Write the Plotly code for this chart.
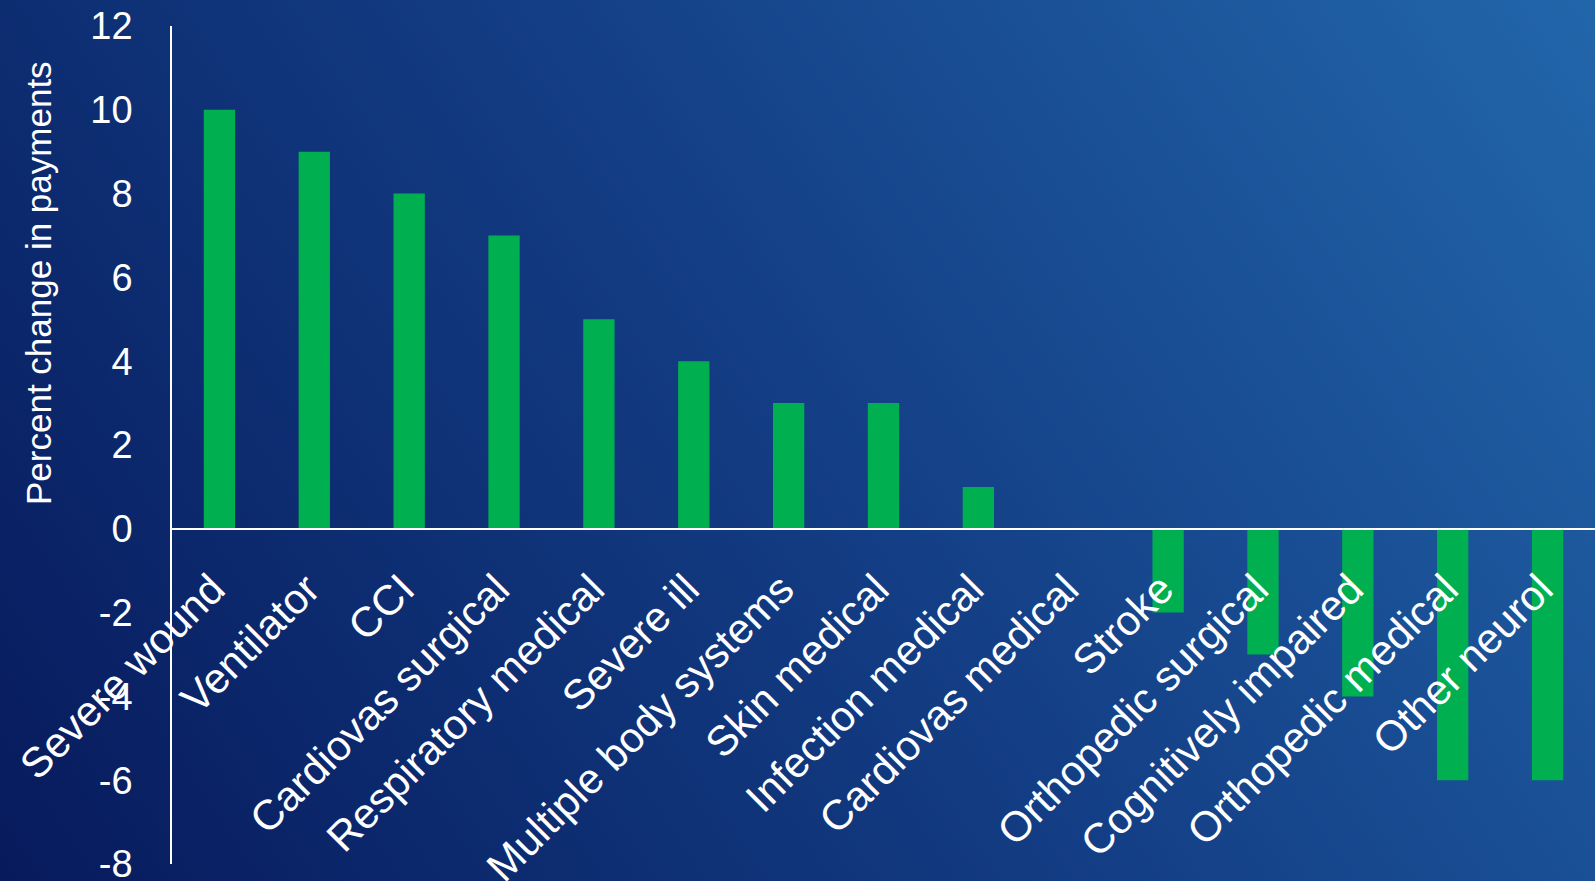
import plotly.graph_objects as go
import base64

categories = ["Severe wound", "Ventilator", "CCI", "Cardiovas surgical", "Respiratory medical",
              "Severe ill", "Multiple body systems", "Skin medical", "Infection medical",
              "Cardiovas medical", "Stroke", "Orthopedic surgical", "Cognitively impaired",
              "Orthopedic medical", "Other neurol"]
values = [10, 9, 8, 7, 5, 4, 3, 3, 1, 0, -2, -3, -4, -6, -6]
y_ticks = [-8, -6, -4, -2, 0, 2, 4, 6, 8, 10, 12]
y_title = "Percent change in payments"

W, H = 1595, 881
ML, MR, MT, MB = 172, 0, 26, 17
pw, ph = W - ML - MR, H - MT - MB

svg = ('<svg xmlns="http://www.w3.org/2000/svg" width="1595" height="881" preserveAspectRatio="none">'
       '<defs><linearGradient id="g" x1="0" y1="1" x2="1.205" y2="0.554">'
       '<stop offset="0" stop-color="#071a5c"/>'
       '<stop offset="0.5" stop-color="#133d84"/>'
       '<stop offset="1" stop-color="#2266aa"/>'
       '</linearGradient></defs>'
       '<rect width="1595" height="881" fill="url(#g)"/></svg>')
src = "data:image/svg+xml;base64," + base64.b64encode(svg.encode()).decode()

fig = go.Figure(go.Bar(x=categories, y=values, marker=dict(color="#00B050", line=dict(width=0))))

fig.update_layout(
    width=W, height=H,
    margin=dict(l=ML, r=MR, t=MT, b=MB, pad=0, autoexpand=False),
    paper_bgcolor="#0f3077", plot_bgcolor="rgba(0,0,0,0)",
    bargap=0.67, showlegend=False,
    font=dict(family="Liberation Sans, Arial, sans-serif", color="white"),
    images=[dict(source=src, xref="paper", yref="paper", x=-ML / pw, y=1 + MT / ph,
                 sizex=W / pw, sizey=H / ph, xanchor="left", yanchor="top",
                 sizing="stretch", layer="below")],
    annotations=[dict(text=y_title, textangle=-90, xref="paper", yref="paper",
                      x=(38 - ML) / pw, y=1 - (283 - MT) / ph, xanchor="center", yanchor="middle",
                      showarrow=False, font=dict(size=35, color="white"))],
)
fig.update_yaxes(range=[-8, 12], tickvals=y_ticks, ticktext=[str(v) for v in y_ticks],
                 showgrid=False, zeroline=False, showline=True, linecolor="white", linewidth=1.5,
                 ticks="", tickfont=dict(size=38, color="white"), ticklabelstandoff=30,
                 ticklabeloverflow="allow", automargin=False)
fig.update_xaxes(anchor="free", position=0.4, showline=True, linecolor="white", linewidth=1.5,
                 showgrid=False, ticks="", tickangle=-45, tickfont=dict(size=42, color="white"),
                 ticklabelstandoff=18, ticklabelshift=-7, automargin=False)

fig.write_html("out.html", config={"displayModeBar": False},
               post_script="document.body.style.margin='0';document.body.style.overflow='hidden';")
